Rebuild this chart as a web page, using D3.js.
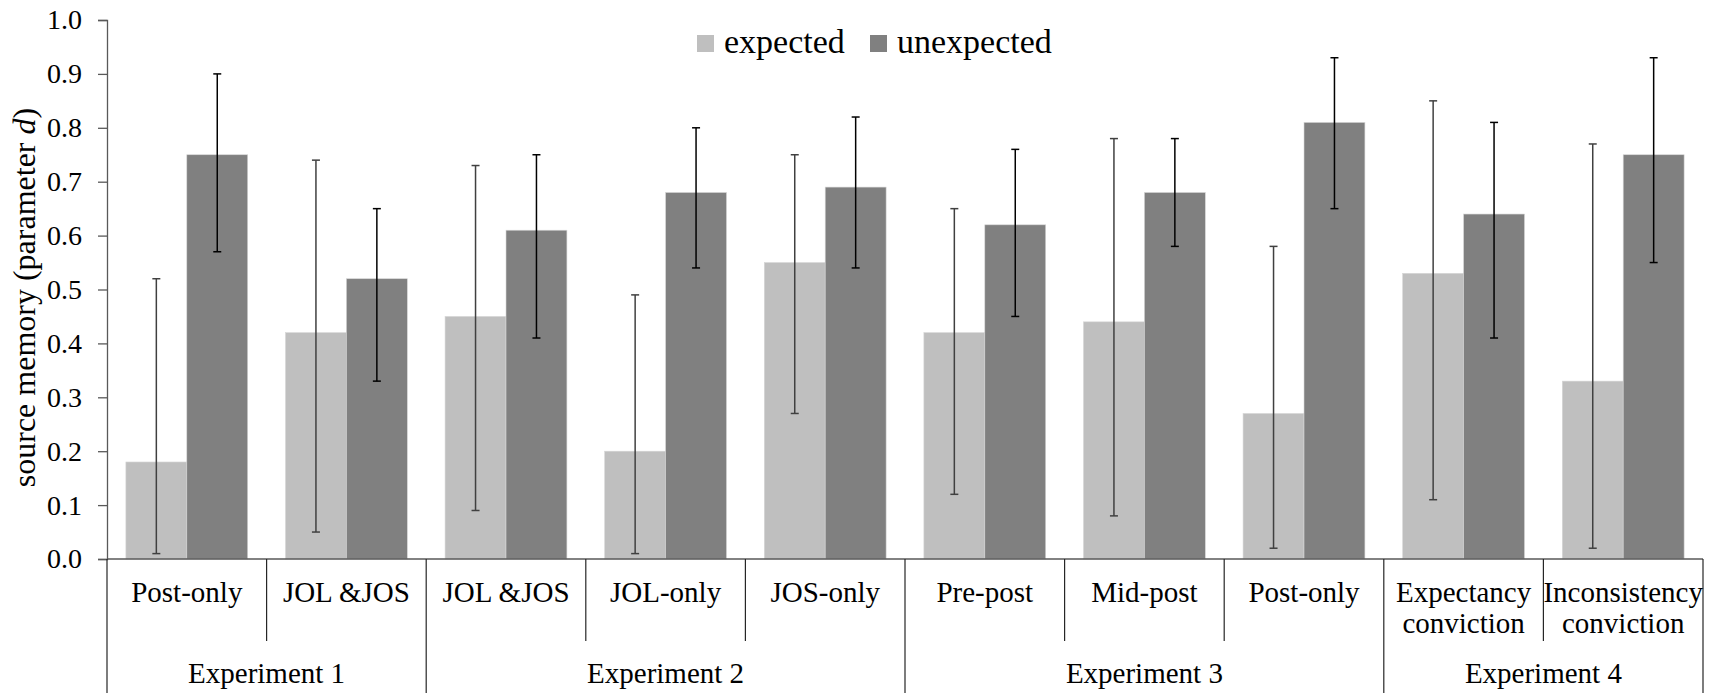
<!DOCTYPE html>
<html>
<head>
<meta charset="utf-8">
<script src="https://cdn.jsdelivr.net/npm/d3@7"></script>
<style>
  html, body { margin: 0; padding: 0; background: #fff; }
  svg { display: block; font-family: "Liberation Serif", "Times New Roman", serif; }
</style>
</head>
<body>
<svg id="chart" width="1715" height="693"></svg>
<script>
// ---- data ----
const categories = ["Post-only", "JOL &JOS", "JOL &JOS", "JOL-only", "JOS-only",
                    "Pre-post", "Mid-post", "Post-only", "Expectancy\nconviction", "Inconsistency\nconviction"];
const experiments = ["Experiment 1", "Experiment 2", "Experiment 3", "Experiment 4"];
const experimentSizes = [2, 3, 3, 2];
const seriesNames = ["expected", "unexpected"];
const expected     = [0.18, 0.42, 0.45, 0.20, 0.55, 0.42, 0.44, 0.27, 0.53, 0.33];
const expectedLow  = [0.01, 0.05, 0.09, 0.01, 0.27, 0.12, 0.08, 0.02, 0.11, 0.02];
const expectedHigh = [0.52, 0.74, 0.73, 0.49, 0.75, 0.65, 0.78, 0.58, 0.85, 0.77];
const unexpected     = [0.75, 0.52, 0.61, 0.68, 0.69, 0.62, 0.68, 0.81, 0.64, 0.75];
const unexpectedLow  = [0.57, 0.33, 0.41, 0.54, 0.54, 0.45, 0.58, 0.65, 0.41, 0.55];
const unexpectedHigh = [0.90, 0.65, 0.75, 0.80, 0.82, 0.76, 0.78, 0.93, 0.81, 0.93];
const yTicks = [0.0, 0.1, 0.2, 0.3, 0.4, 0.5, 0.6, 0.7, 0.8, 0.9, 1.0];

// ---- layout ----
const svg = d3.select("#chart");
const plotLeft = 107, plotRight = 1703, plotTop = 20, plotBase = 559;
const colors = { expected: "#bfbfbf", unexpected: "#808080" };
const errColors = { expected: "#404040", unexpected: "#000000" };

const idx = categories.map((d, i) => i);
const x0 = d3.scaleBand().domain(idx).range([plotLeft, plotRight]).padding(0);
const x1 = d3.scaleBand().domain(seriesNames).range([0, x0.bandwidth()])
             .paddingInner(0).paddingOuter(0.31);
const y = d3.scaleLinear().domain([0, 1]).range([plotBase, plotTop]);

const rows = idx.map(i => ({
  i,
  vals: [
    { key: "expected", v: expected[i], lo: expectedLow[i], hi: expectedHigh[i] },
    { key: "unexpected", v: unexpected[i], lo: unexpectedLow[i], hi: unexpectedHigh[i] }
  ]
}));

// bars
const g = svg.append("g");
const grp = g.selectAll("g.cat").data(rows).join("g")
  .attr("class", "cat")
  .attr("transform", d => `translate(${x0(d.i)},0)`);

grp.selectAll("rect").data(d => d.vals).join("rect")
  .attr("x", d => x1(d.key))
  .attr("y", d => y(d.v))
  .attr("width", x1.bandwidth())
  .attr("height", d => plotBase - y(d.v))
  .attr("fill", d => colors[d.key])
  .attr("stroke", "#d6d6d6").attr("stroke-width", 0.6);

// error bars
const capW = 4;
const eb = grp.selectAll("g.err").data(d => d.vals).join("g").attr("class", "err")
  .attr("stroke", d => errColors[d.key]).attr("stroke-width", 1.5);
eb.append("line")
  .attr("x1", d => x1(d.key) + x1.bandwidth() / 2).attr("x2", d => x1(d.key) + x1.bandwidth() / 2)
  .attr("y1", d => y(d.lo)).attr("y2", d => y(d.hi));
eb.append("line")
  .attr("x1", d => x1(d.key) + x1.bandwidth() / 2 - capW).attr("x2", d => x1(d.key) + x1.bandwidth() / 2 + capW)
  .attr("y1", d => y(d.hi)).attr("y2", d => y(d.hi));
eb.append("line")
  .attr("x1", d => x1(d.key) + x1.bandwidth() / 2 - capW).attr("x2", d => x1(d.key) + x1.bandwidth() / 2 + capW)
  .attr("y1", d => y(d.lo)).attr("y2", d => y(d.lo));

// y axis
const yAxis = d3.axisLeft(y).tickValues(yTicks).tickFormat(d3.format(".1f"))
  .tickSize(9).tickPadding(16);
const ya = svg.append("g").attr("transform", `translate(${plotLeft},0)`).call(yAxis);
ya.select(".domain").attr("stroke", "#595959").attr("stroke-width", 1.3);
ya.selectAll(".tick line").attr("stroke", "#595959").attr("stroke-width", 1.3);
ya.selectAll(".tick text").attr("font-size", 28).attr("fill", "#000")
  .attr("font-family", "'Liberation Serif', 'Times New Roman', serif");

// y axis title
const yt = svg.append("text")
  .attr("transform", `translate(35,${(plotTop + plotBase) / 2 + 8}) rotate(-90)`)
  .attr("text-anchor", "middle").attr("font-size", 32).attr("fill", "#000");
yt.append("tspan").text("source memory (parameter ");
yt.append("tspan").attr("font-style", "italic").text("d");
yt.append("tspan").text(")");

// x baseline
svg.append("line").attr("x1", plotLeft).attr("x2", plotRight).attr("y1", plotBase).attr("y2", plotBase)
  .attr("stroke", "#595959").attr("stroke-width", 1.3);

// category dividers
const expBoundaries = [0];
experimentSizes.reduce((acc, n) => { acc += n; expBoundaries.push(acc); return acc; }, 0);
const dividerIdx = d3.range(categories.length + 1);
svg.append("g").selectAll("line").data(dividerIdx).join("line")
  .attr("x1", i => i < categories.length ? x0(i) : plotRight)
  .attr("x2", i => i < categories.length ? x0(i) : plotRight)
  .attr("y1", plotBase)
  .attr("y2", i => expBoundaries.includes(i) ? 693 : 641)
  .attr("stroke", "#262626").attr("stroke-width", 1.2);

// category labels
const catLab = svg.append("g").selectAll("text").data(idx).join("text")
  .attr("x", i => x0(i) + x0.bandwidth() / 2)
  .attr("y", 602)
  .attr("text-anchor", "middle").attr("font-size", 29).attr("fill", "#000");
catLab.each(function(i) {
  const lines = categories[i].split("\n");
  d3.select(this).selectAll("tspan").data(lines).join("tspan")
    .attr("x", x0(i) + x0.bandwidth() / 2)
    .attr("dy", (d, k) => k === 0 ? 0 : 31)
    .text(d => d);
});

// experiment labels
svg.append("g").selectAll("text").data(experiments).join("text")
  .attr("x", (d, k) => {
    const a = expBoundaries[k], b = expBoundaries[k + 1];
    const xa = x0(a), xb = b < categories.length ? x0(b) : plotRight;
    return (xa + xb) / 2;
  })
  .attr("y", 683)
  .attr("text-anchor", "middle").attr("font-size", 29).attr("fill", "#000")
  .text(d => d);

// legend
const legendPos = [697, 870];
const lg = svg.append("g").selectAll("g").data(seriesNames).join("g")
  .attr("transform", (d, k) => `translate(${legendPos[k]},0)`);
lg.append("rect").attr("x", 0).attr("y", 35).attr("width", 17).attr("height", 17)
  .attr("fill", d => colors[d]);
lg.append("text").attr("x", 27).attr("y", 53).attr("font-size", 34).attr("fill", "#000")
  .text(d => d);
</script>
</body>
</html>
